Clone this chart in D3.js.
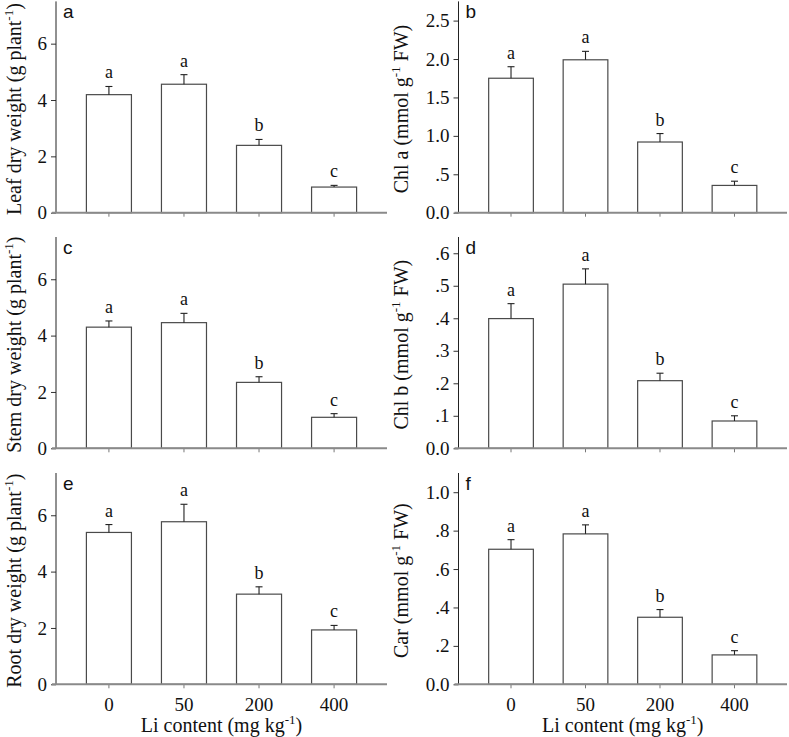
<!DOCTYPE html>
<html>
<head>
<meta charset="utf-8">
<script src="https://cdn.jsdelivr.net/npm/d3@7"></script>
<style>
  html, body { margin: 0; padding: 0; background: #fff; }
  svg { display: block; }
  text { fill: #111; }
</style>
</head>
<body>
<div id="chart"></div>
<script>
// ---------- data ----------
const categories = ["0", "50", "200", "400"];

const leafDW      = [4.19, 4.56, 2.39, 0.91];
const leafDWErr   = [0.29, 0.34, 0.21, 0.06];
const leafLetters = ["a", "a", "b", "c"];

const chlA        = [1.75, 1.99, 0.92, 0.355];
const chlAErr     = [0.15, 0.11, 0.11, 0.055];
const chlALetters = ["a", "a", "b", "c"];

const stemDW      = [4.30, 4.46, 2.34, 1.10];
const stemDWErr   = [0.22, 0.33, 0.20, 0.13];
const stemLetters = ["a", "a", "b", "c"];

const chlB        = [0.399, 0.505, 0.208, 0.084];
const chlBErr     = [0.046, 0.047, 0.023, 0.016];
const chlBLetters = ["a", "a", "b", "c"];

const rootDW      = [5.39, 5.77, 3.20, 1.93];
const rootDWErr   = [0.28, 0.62, 0.26, 0.16];
const rootLetters = ["a", "a", "b", "c"];

const car         = [0.703, 0.783, 0.349, 0.153];
const carErr      = [0.050, 0.047, 0.040, 0.022];
const carLetters  = ["a", "a", "b", "c"];

const dwTicks    = [0, 2, 4, 6];
const dwTickLabels = ["0", "2", "4", "6"];
const chlATicks  = [0, 0.5, 1.0, 1.5, 2.0, 2.5];
const chlATickLabels = ["0.0", ".5", "1.0", "1.5", "2.0", "2.5"];
const chlBTicks  = [0, 0.1, 0.2, 0.3, 0.4, 0.5, 0.6];
const chlBTickLabels = ["0.0", ".1", ".2", ".3", ".4", ".5", ".6"];
const carTicks   = [0, 0.2, 0.4, 0.6, 0.8, 1.0];
const carTickLabels = ["0.0", ".2", ".4", ".6", ".8", "1.0"];

const xTitle = "Li content (mg kg";

// ---------- layout ----------
const W = 789, H = 737;
const SERIF = '"Liberation Serif", "Times New Roman", serif';
const SANS = '"Liberation Sans", Arial, sans-serif';
const svg = d3.select("#chart").append("svg").attr("width", W).attr("height", H);

const colX = [{x0: 56, x1: 387, titleX: 14}, {x0: 458.5, x1: 787, titleX: 401}];
const rowY = [212.7, 448.3, 684.3];
const plotH = 211.3;

const panels = [
  {col: 0, row: 0, tag: "a", vals: leafDW, err: leafDWErr, letters: leafLetters, max: 7.5, ticks: dwTicks, tickLabels: dwTickLabels, title: ["Leaf dry weight (g plant", "-1", ")"]},
  {col: 1, row: 0, tag: "b", vals: chlA, err: chlAErr, letters: chlALetters, max: 2.75, ticks: chlATicks, tickLabels: chlATickLabels, title: ["Chl a (mmol g", "-1", " FW)"]},
  {col: 0, row: 1, tag: "c", vals: stemDW, err: stemDWErr, letters: stemLetters, max: 7.5, ticks: dwTicks, tickLabels: dwTickLabels, title: ["Stem dry weight (g plant", "-1", ")"]},
  {col: 1, row: 1, tag: "d", vals: chlB, err: chlBErr, letters: chlBLetters, max: 0.65, ticks: chlBTicks, tickLabels: chlBTickLabels, title: ["Chl b (mmol g", "-1", " FW)"]},
  {col: 0, row: 2, tag: "e", vals: rootDW, err: rootDWErr, letters: rootLetters, max: 7.5, ticks: dwTicks, tickLabels: dwTickLabels, title: ["Root dry weight (g plant", "-1", ")"]},
  {col: 1, row: 2, tag: "f", vals: car, err: carErr, letters: carLetters, max: 1.1, ticks: carTicks, tickLabels: carTickLabels, title: ["Car (mmol g", "-1", " FW)"]}
];

const tickFont = 19, titleFont = 20, letterFont = 18;

panels.forEach(p => {
  const c = colX[p.col];
  const base = rowY[p.row];
  const top = base - plotH;

  const x = d3.scaleBand().domain(categories).range([c.x0, c.x1])
    .paddingInner(0.4).paddingOuter(0.405);
  const y = d3.scaleLinear().domain([0, p.max]).range([base, top]);

  const g = svg.append("g");

  // y axis
  const yAxis = d3.axisLeft(y).tickValues(p.ticks)
    .tickFormat((d, i) => p.tickLabels[i])
    .tickSizeOuter(0).tickSize(5).tickPadding(4);
  const ya = g.append("g").attr("transform", `translate(${c.x0},0)`).call(yAxis);
  ya.select(".domain").remove();
  ya.selectAll(".tick line").attr("stroke", "#333");
  ya.selectAll(".tick text").style("font-size", tickFont + "px")
    .style("font-family", SERIF).attr("fill", "#111");
  g.append("line").attr("x1", c.x0).attr("x2", c.x0).attr("y1", base).attr("y2", top)
    .attr("stroke", "#222").attr("stroke-width", 1);

  // bars
  g.selectAll("rect.bar").data(p.vals).join("rect")
    .attr("class", "bar")
    .attr("x", (d, i) => x(categories[i]))
    .attr("y", d => y(d))
    .attr("width", x.bandwidth())
    .attr("height", d => base - y(d))
    .attr("fill", "#fff").attr("stroke", "#4a4a4a").attr("stroke-width", 1.2);

  // error bars
  const cx = i => x(categories[i]) + x.bandwidth() / 2;
  g.selectAll("line.err").data(p.vals).join("line")
    .attr("class", "err")
    .attr("x1", (d, i) => cx(i)).attr("x2", (d, i) => cx(i))
    .attr("y1", d => y(d)).attr("y2", (d, i) => y(d + p.err[i]))
    .attr("stroke", "#222").attr("stroke-width", 1.1);
  g.selectAll("line.cap").data(p.vals).join("line")
    .attr("class", "cap")
    .attr("x1", (d, i) => cx(i) - 3.5).attr("x2", (d, i) => cx(i) + 3.5)
    .attr("y1", (d, i) => y(d + p.err[i])).attr("y2", (d, i) => y(d + p.err[i]))
    .attr("stroke", "#222").attr("stroke-width", 1.1);

  // letters
  g.selectAll("text.sig").data(p.vals).join("text")
    .attr("class", "sig")
    .attr("x", (d, i) => cx(i))
    .attr("y", (d, i) => y(d + p.err[i]) - 8)
    .attr("text-anchor", "middle")
    .style("font-family", SERIF)
    .style("font-size", letterFont + "px")
    .text((d, i) => p.letters[i]);

  // x axis (baseline)
  const xAxis = d3.axisBottom(x).tickSize(4).tickSizeOuter(0).tickPadding(9);
  const xa = g.append("g").attr("transform", `translate(0,${base})`).call(xAxis);
  xa.select(".domain").remove();
  xa.selectAll(".tick line").attr("stroke", "#777");
  if (p.row === 2) {
    xa.selectAll(".tick text").style("font-size", tickFont + "px")
      .style("font-family", SERIF).attr("fill", "#111");
  } else {
    xa.selectAll(".tick text").remove();
  }
  g.append("line").attr("x1", c.x0 - 4).attr("x2", c.x1).attr("y1", base).attr("y2", base)
    .attr("stroke", "#8a8a8a").attr("stroke-width", 2);

  // panel tag
  g.append("text").attr("x", c.x0 + 7).attr("y", top + 17)
    .style("font-family", SANS)
    .style("font-size", "19px").text(p.tag);

  // y title
  const ty = g.append("text")
    .attr("transform", `translate(${c.titleX},${(base + top) / 2 + 2}) rotate(-90)`)
    .attr("text-anchor", "middle").attr("dy", "0.35em")
    .style("font-family", SERIF)
    .style("font-size", titleFont + "px");
  ty.append("tspan").text(p.title[0]);
  ty.append("tspan").style("font-size", "13px").attr("dy", -8).text(p.title[1]);
  ty.append("tspan").attr("dy", 8).text(p.title[2]);

  // x title for bottom row
  if (p.row === 2) {
    const tx = g.append("text")
      .attr("x", (c.x0 + c.x1) / 2).attr("y", 732)
      .attr("text-anchor", "middle")
      .style("font-family", SERIF)
      .style("font-size", titleFont + "px");
    tx.append("tspan").text(xTitle);
    tx.append("tspan").style("font-size", "13px").attr("dy", -8).text("-1");
    tx.append("tspan").attr("dy", 8).text(")");
  }
});
</script>
</body>
</html>
